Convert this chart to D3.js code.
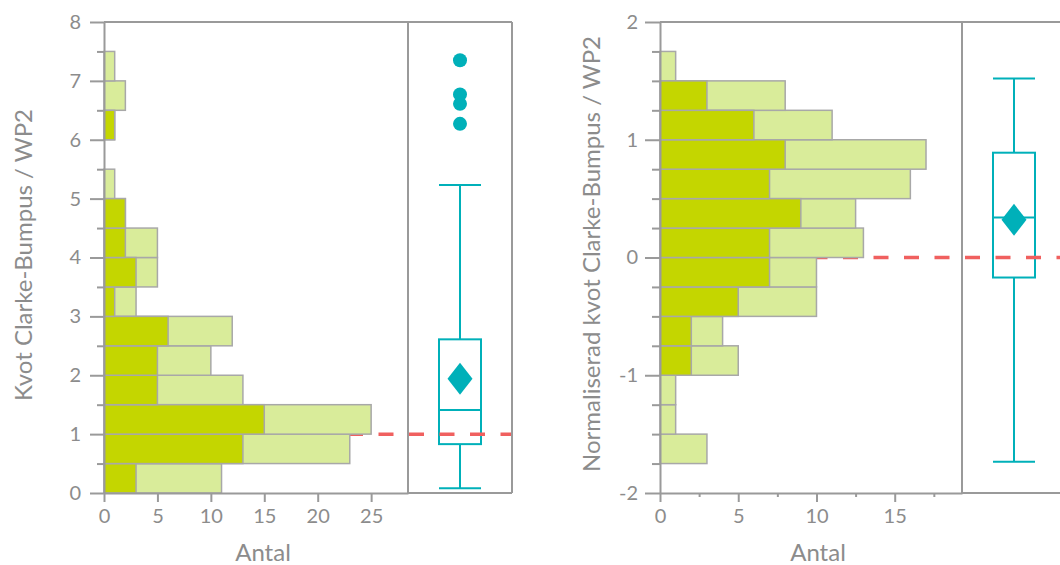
<!DOCTYPE html>
<meta charset="utf-8">
<head>
	<title>Kvot Clarke-Bumpus / WP2</title>
	<script src="https://d3js.org/d3.v7.min.js"></script>
	<style>
		body { margin: 0; background: #fff; }
		text { font-family: Lato, "Open Sans", sans-serif; fill: #8c8c8c; }
	</style>
</head>
<body>
<script>
	// data: bin lower edges, all samples, highlighted subset
	const leftBins = [0, 0.5, 1, 1.5, 2, 2.5, 3, 3.5, 4, 4.5, 5, 5.5, 6, 6.5, 7];
	const leftAll  = [11, 23, 25, 13, 10, 12, 3, 5, 5, 2, 1, 0, 1, 2, 1];
	const leftSub  = [3, 13, 15, 5, 5, 6, 1, 3, 2, 2, 0, 0, 1, 0, 0];
	const leftBox  = {lo: 0.08, q1: 0.83, med: 1.41, q3: 2.61, hi: 5.23, mean: 1.94};
	const leftOutliers = [6.27, 6.61, 6.77, 7.35];

	const rightBins = [-1.75, -1.5, -1.25, -1, -0.75, -0.5, -0.25, 0, 0.25, 0.5, 0.75, 1, 1.25, 1.5];
	const rightAll  = [3, 1, 1, 5, 4, 10, 10, 13, 12.5, 16, 17, 11, 8, 1];
	const rightSub  = [0, 0, 0, 2, 2, 5, 7, 7, 9, 7, 8, 6, 3, 0];
	const rightBox  = {lo: -1.735, q1: -0.17, med: 0.34, q3: 0.89, hi: 1.52, mean: 0.32};
	const rightOutliers = [];

	const leftYTicks = [0, 1, 2, 3, 4, 5, 6, 7, 8];
	const rightYTicks = [-2, -1, 0, 1, 2];

	const gray = '#9a9a9a';
	const teal = '#00b0b9';
	const red = '#f0605f';

	const svg = d3.select('body').append('svg')
		.attr('width', 1060)
		.attr('height', 565);

	function drawPanel(c) {
		const x = d3.scaleLinear().domain([0, c.xMax]).range([c.left, c.divider]);
		const y = d3.scaleLinear().domain(c.yDomain).range([493, 22]);
		const boxRight = c.divider + 104;
		const cx = c.divider + 52;
		const hw = 21;
		const g = svg.append('g');

		// box plot
		const bg = g.append('g').style('fill', 'none').style('stroke', teal).style('stroke-width', 2);
		bg.append('line').attr('x1', cx).attr('x2', cx).attr('y1', y(c.box.hi)).attr('y2', y(c.box.q3));
		bg.append('line').attr('x1', cx).attr('x2', cx).attr('y1', y(c.box.q1)).attr('y2', y(c.box.lo));
		bg.append('line').attr('x1', cx - hw).attr('x2', cx + hw).attr('y1', y(c.box.hi)).attr('y2', y(c.box.hi));
		bg.append('line').attr('x1', cx - hw).attr('x2', cx + hw).attr('y1', y(c.box.lo)).attr('y2', y(c.box.lo));
		bg.append('rect')
			.attr('x', cx - hw).attr('width', hw * 2)
			.attr('y', y(c.box.q3)).attr('height', y(c.box.q1) - y(c.box.q3));
		bg.append('line').attr('x1', cx - hw).attr('x2', cx + hw).attr('y1', y(c.box.med)).attr('y2', y(c.box.med));
		const my = y(c.box.mean);
		g.append('path')
			.attr('d', `M${cx},${my - 16}L${cx + 12.5},${my}L${cx},${my + 16}L${cx - 12.5},${my}Z`)
			.style('fill', teal);
		g.selectAll('.outlier').data(c.outliers).enter().append('circle')
			.attr('cx', cx).attr('cy', d => y(d)).attr('r', 7)
			.style('fill', teal);

		// reference line
		g.append('line')
			.attr('x1', c.left).attr('x2', boxRight)
			.attr('y1', y(c.refLine)).attr('y2', y(c.refLine))
			.style('stroke', red).style('stroke-width', 3.5)
			.style('stroke-dasharray', '15,15.5');

		// histogram
		const bw = c.bins[1] - c.bins[0];
		const hist = c.bins.map((b, i) => ({b: b, all: c.all[i], sub: c.sub[i]}));
		g.selectAll('.all').data(hist.filter(d => d.all > 0)).enter().append('rect')
			.attr('x', x(0)).attr('width', d => x(d.all) - x(0))
			.attr('y', d => y(d.b + bw)).attr('height', d => y(d.b) - y(d.b + bw))
			.style('fill', '#d9ec9a').style('stroke', '#a8a8a8').style('stroke-width', 1.5);
		g.selectAll('.sub').data(hist.filter(d => d.sub > 0)).enter().append('rect')
			.attr('x', x(0)).attr('width', d => x(d.sub) - x(0))
			.attr('y', d => y(d.b + bw)).attr('height', d => y(d.b) - y(d.b + bw))
			.style('fill', '#c4d600').style('stroke', '#a8a8a8').style('stroke-width', 1.5);

		// frame
		const fr = g.append('g').style('stroke', gray).style('stroke-width', 2);
		fr.append('line').attr('x1', c.left).attr('x2', boxRight).attr('y1', 22).attr('y2', 22);
		fr.append('line').attr('x1', c.divider).attr('x2', c.divider).attr('y1', 22).attr('y2', 493);
		fr.append('line').attr('x1', boxRight).attr('x2', boxRight).attr('y1', 22).attr('y2', 493);
		fr.append('line').attr('x1', c.divider).attr('x2', boxRight).attr('y1', 493).attr('y2', 493);

		// y axis minor + major
		const minorY = c.bins.concat([c.bins[c.bins.length - 1] + bw]).filter(v => c.yTicks.indexOf(v) < 0);
		g.append('g').attr('transform', `translate(${c.left},0)`)
			.call(d3.axisLeft(y).tickValues(minorY).tickSize(c.minorY).tickFormat('').tickSizeOuter(0))
			.call(a => a.select('.domain').remove());
		g.append('g').attr('transform', `translate(${c.left},0)`)
			.call(d3.axisLeft(y).tickValues(c.yTicks).tickSize(c.majorY).tickPadding(c.padY).tickSizeOuter(0)
				.tickFormat(d => String(d)));

		// x axis
		if (c.xMinor.length) {
			g.append('g').attr('transform', 'translate(0,493)')
				.call(d3.axisBottom(x).tickValues(c.xMinor).tickSize(4).tickFormat('').tickSizeOuter(0))
				.call(a => a.select('.domain').remove());
		}
		g.append('g').attr('transform', 'translate(0,493)')
			.call(d3.axisBottom(x).tickValues(c.xTicks).tickSize(9).tickPadding(7).tickSizeOuter(0));

		g.selectAll('.domain, .tick line').style('stroke', gray).style('stroke-width', 2);
		g.selectAll('.tick text').style('font-size', '20px').style('fill', '#8c8c8c')
			.style('font-family', 'Lato, "Open Sans", sans-serif');

		g.append('text')
			.attr('x', (c.left + c.divider) / 2 + 7).attr('y', 561)
			.attr('text-anchor', 'middle').style('font-size', '24px')
			.text('Antal');
		g.append('text')
			.attr('transform', `translate(${c.titleX},${c.titleY}) rotate(-90)`)
			.attr('text-anchor', 'middle').style('font-size', c.titleSize)
			.text(c.title);
	}

	drawPanel({
		left: 104, divider: 408, xMax: 28.45, yDomain: [0, 8],
		bins: leftBins, all: leftAll, sub: leftSub, box: leftBox, outliers: leftOutliers,
		refLine: 1, yTicks: leftYTicks, xTicks: [0, 5, 10, 15, 20, 25], xMinor: [],
		majorY: 14, minorY: 7, padY: 9,
		title: 'Kvot Clarke-Bumpus / WP2', titleX: 32, titleY: 255, titleSize: '24px'
	});

	drawPanel({
		left: 660, divider: 962, xMax: 19.3, yDomain: [-2, 2],
		bins: rightBins, all: rightAll, sub: rightSub, box: rightBox, outliers: rightOutliers,
		refLine: 0, yTicks: rightYTicks, xTicks: [0, 5, 10, 15], xMinor: [2.5, 7.5, 12.5, 17.5],
		majorY: 15, minorY: 8, padY: 7,
		title: 'Normaliserad kvot Clarke-Bumpus / WP2', titleX: 600, titleY: 254, titleSize: '24px'
	});
</script>
</body>
</html>
